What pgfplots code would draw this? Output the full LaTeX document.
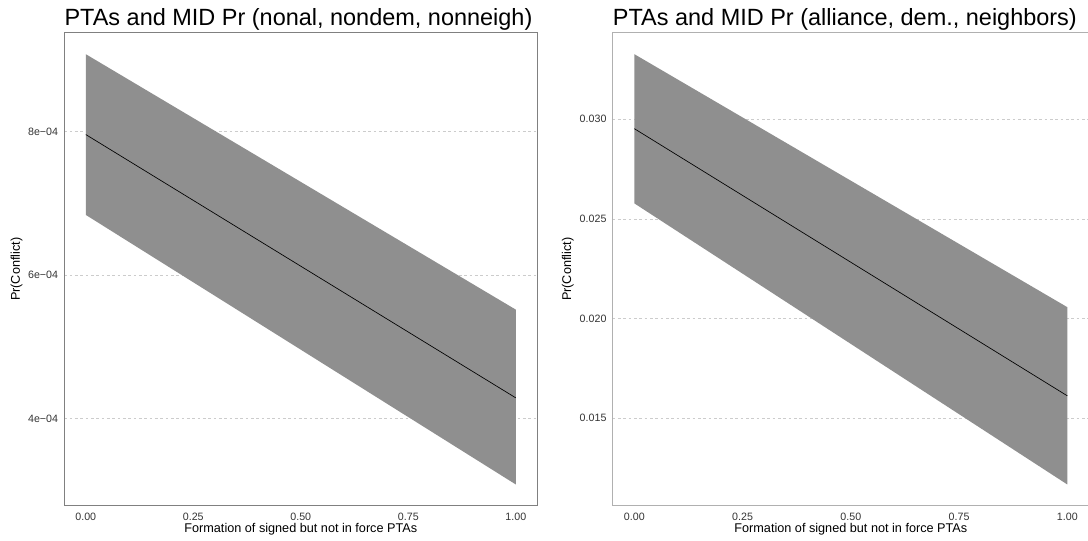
\documentclass[border=0pt]{standalone}
\usepackage{pgfplots}
\pgfplotsset{compat=1.18}
\usepackage{fontspec}
\setmainfont{Liberation Sans}

\definecolor{bandgray}{HTML}{8F8F8F}
\definecolor{gridgray}{HTML}{CCCCCC}
\definecolor{framegray}{HTML}{808080}
\definecolor{framelight}{HTML}{B0B0B0}
\definecolor{ticktext}{HTML}{333333}

\pgfplotsset{
  mepanel/.style={
    scale only axis, anchor=south west,
    height=355pt,
    xmin=-0.05, xmax=1.05,
    xtick={0,0.25,0.5,0.75,1},
    xticklabels={0.00,0.25,0.50,0.75,1.00},
    scaled y ticks=false,
    major tick length=0pt,
    ymajorgrids,
    grid style={gridgray, dash pattern=on 2pt off 2pt, line width=0.45pt},
    tick label style={font=\fontsize{8}{9.6}\selectfont, text=ticktext},
    xticklabel style={anchor=base, yshift=-10.9pt},
    yticklabel style={anchor=east, inner sep=0pt, xshift=-4.5pt},
    xlabel style={at={(axis description cs:0.5,0)}, anchor=base, yshift=-19.8pt,
      font=\fontsize{9.5}{11}\selectfont},
    ylabel style={anchor=base, rotate=0, font=\fontsize{9.5}{11}\selectfont},
    every axis title/.style={at={(axis description cs:0,1)}, anchor=base west,
      yshift=5.4pt, inner sep=0pt, font=\fontsize{17.6}{21}\selectfont},
    xlabel={Formation of signed but not in force PTAs},
    ylabel={Pr(Conflict)},
  },
}

\begin{document}
\begin{tikzpicture}
\useasboundingbox (0pt,0pt) rectangle (816pt,405.75pt);

% left panel: non-allies, non-democracies, non-neighbours
\begin{axis}[mepanel,
  at={(48.225pt,26.25pt)}, width=354.75pt,
  axis line style={framegray, line width=0.75pt},
  ymin=2.783e-4, ymax=9.38e-4,
  ytick={4e-4,6e-4,8e-4},
  yticklabels={4e−04,6e−04,8e−04},
  ylabel style={at={(axis description cs:-0.0937,0.5)}},
  title={PTAs and MID Pr (nonal, nondem, nonneigh)},
]
  \addplot[fill=bandgray, draw=none]
    coordinates {(0,9.08e-4) (1,5.52e-4) (1,3.083e-4) (0,6.84e-4)} --cycle;
  \addplot[black, line width=0.5pt] coordinates {(0,7.96e-4) (1,4.29e-4)};
\end{axis}

% right panel: allies, democracies, neighbours
\begin{axis}[mepanel,
  at={(459.525pt,26.25pt)}, width=357.2pt,
  axis line style={framelight, line width=0.75pt},
  ymin=0.01059, ymax=0.03435,
  ytick={0.015,0.020,0.025,0.030},
  yticklabels={0.015,0.020,0.025,0.030},
  ylabel style={at={(axis description cs:-0.0874,0.5)}},
  title={PTAs and MID Pr (alliance, dem., neighbors)},
]
  \addplot[fill=bandgray, draw=none]
    coordinates {(0,0.03327) (1,0.02057) (1,0.01167) (0,0.02578)} --cycle;
  \addplot[black, line width=0.5pt] coordinates {(0,0.02953) (1,0.01612)};
\end{axis}
\end{tikzpicture}
\end{document}
